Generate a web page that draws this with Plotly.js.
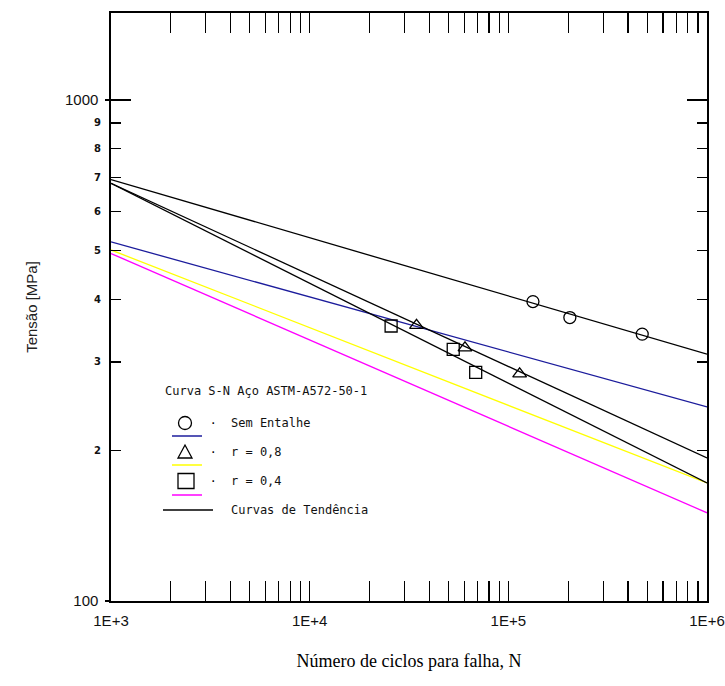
<!DOCTYPE html>
<html>
<head>
<meta charset="utf-8">
<script src="https://cdn.plot.ly/plotly-3.0.1.min.js"></script>
<style>html,body{margin:0;padding:0;background:#fff;}</style>
</head>
<body>
<div id="chart" style="width:725px;height:686px;"></div>
<script>
// ---- data ----
const circleN = [133000, 204000, 472000];
const circleS = [396, 368, 341];
const triN = [34500, 60500, 114000];
const triS = [355, 320, 284];
const sqN = [25700, 52800, 68500];
const sqS = [354, 318, 286];
const lineN = [1000, 1000000];
const trendCircle = [694, 311];
const trendTri = [682, 193];
const trendSq = [682, 172];
const blueCurve = [521, 244];
const yellowCurve = [502, 172];
const magentaCurve = [494, 150];
const xTickVals = [1e3, 1e4, 1e5, 1e6];
const xTickText = ['1E+3', '1E+4', '1E+5', '1E+6'];
const yMajorVals = [100, 1000];
const yMajorText = ['100', '1000'];
const yMinorVals = [200, 300, 400, 500, 600, 700, 800, 900];
const yMinorText = ['2', '3', '4', '5', '6', '7', '8', '9'];
const legendTitle = 'Curva S-N Aço ASTM-A572-50-1';
const legendLabels = ['Sem Entalhe', 'r = 0,8', 'r = 0,4', 'Curvas de Tendência'];

const xMinorVals = [];
[1e3, 1e4, 1e5].forEach(d => { for (let k = 2; k <= 9; k++) xMinorVals.push(k * d); });

const lineW = 1.3;
function line(y, color) {
  return {x: lineN, y: y, mode: 'lines', line: {color: color, width: lineW}, hoverinfo: 'skip', showlegend: false};
}
function pts(x, y, sym) {
  return {x: x, y: y, mode: 'markers', marker: {symbol: sym, size: 12, color: '#000', line: {width: 1.3, color: '#000'}}, showlegend: false};
}

const traces = [
  line(blueCurve, '#1c1c9c'),
  line(yellowCurve, '#ffff00'),
  line(magentaCurve, '#ff00ff'),
  line(trendCircle, '#000'),
  line(trendTri, '#000'),
  line(trendSq, '#000'),
  pts(circleN, circleS, 'circle-open'),
  pts(triN, triS, 'triangle-up-open'),
  pts(sqN, sqS, 'square-open'),
  {x: [], y: [], yaxis: 'y2', mode: 'markers', showlegend: false},
  {x: [], y: [], yaxis: 'y3', mode: 'markers', showlegend: false}
];

const yRange = [2, Math.log10(1492)];
const W = 596, H = 588, L = 111, T = 13;
const px = x => (x - L) / W;
const py = y => (T + H - y) / H;

const sans = 'Liberation Sans, Arial, sans-serif';
const legFont = {family: 'DejaVu Sans Mono, monospace', size: 12, color: '#111'};

const annotations = [
  {xref: 'paper', yref: 'paper', x: px(163), y: py(391), text: legendTitle, showarrow: false, xanchor: 'left', yanchor: 'middle', font: legFont},
];
const rowsY = [423, 452, 481, 510];
legendLabels.forEach((t, i) => {
  annotations.push({xref: 'paper', yref: 'paper', x: px(229), y: py(rowsY[i]), text: t, showarrow: false, xanchor: 'left', yanchor: 'middle', font: legFont});
  if (i < 3) annotations.push({xref: 'paper', yref: 'paper', x: px(213), y: py(rowsY[i]), text: '·', showarrow: false, xanchor: 'center', yanchor: 'middle', font: {family: 'DejaVu Sans', size: 14, color: '#000'}});
});

const sym = {xref: 'paper', yref: 'paper', xsizemode: 'pixel', ysizemode: 'pixel', line: {color: '#000', width: 1.3}};
const shapes = [
  Object.assign({}, sym, {type: 'circle', xanchor: px(185), yanchor: py(423), x0: -6.5, x1: 6.5, y0: -6.5, y1: 6.5}),
  Object.assign({}, sym, {type: 'path', xanchor: px(185), yanchor: py(452), path: 'M -7,-6 L 7,-6 L 0,7 Z'}),
  Object.assign({}, sym, {type: 'rect', xanchor: px(186), yanchor: py(481), x0: -8, x1: 8, y0: -7.5, y1: 7.5}),
  {type: 'line', xref: 'paper', yref: 'paper', x0: px(172), x1: px(202), y0: py(436), y1: py(436), line: {color: '#1c1c9c', width: 1.5}},
  {type: 'line', xref: 'paper', yref: 'paper', x0: px(172), x1: px(202), y0: py(465), y1: py(465), line: {color: '#ffff00', width: 1.5}},
  {type: 'line', xref: 'paper', yref: 'paper', x0: px(172), x1: px(202), y0: py(495), y1: py(495), line: {color: '#ff00ff', width: 1.5}},
  {type: 'line', xref: 'paper', yref: 'paper', x0: px(163), x1: px(213), y0: py(510), y1: py(510), line: {color: '#000', width: 1.3}}
];

const layout = {
  width: 725, height: 686,
  margin: {l: L, r: 725 - L - W, t: T, b: 686 - T - H},
  paper_bgcolor: '#fff', plot_bgcolor: '#fff',
  showlegend: false,
  xaxis: {
    type: 'log', range: [3, 6],
    tickmode: 'array', tickvals: xTickVals, ticktext: xTickText,
    ticks: 'inside', ticklen: 20, tickwidth: 1.2, tickcolor: '#000',
    mirror: 'allticks', showline: true, linecolor: '#000', linewidth: 1.6,
    showgrid: false, zeroline: false,
    tickfont: {family: sans, size: 15, color: '#111'},
    ticklabelstandoff: 5,
    minor: {tickmode: 'array', tickvals: xMinorVals, ticks: 'inside', ticklen: 10, tickwidth: 1.2, tickcolor: '#000', showgrid: false},
    title: {text: 'Número de ciclos para falha, N', font: {family: 'Liberation Serif, Times New Roman, serif', size: 18, color: '#000'}, standoff: 27},
    automargin: false
  },
  yaxis: {
    type: 'log', range: yRange,
    tickmode: 'array', tickvals: yMajorVals, ticktext: yMajorText,
    ticks: 'inside', ticklen: 20, tickwidth: 1.2, tickcolor: '#000',
    mirror: 'allticks', showline: true, linecolor: '#000', linewidth: 1.6,
    showgrid: false, zeroline: false,
    tickfont: {family: sans, size: 15, color: '#111'},
    ticklabelstandoff: 8,
    minor: {tickmode: 'array', tickvals: yMinorVals, ticks: 'inside', ticklen: 10, tickwidth: 1.2, tickcolor: '#000', showgrid: false},
    title: {text: 'Tensão [MPa]', font: {family: sans, size: 15, color: '#222'}, standoff: 24},
    automargin: false
  },
  yaxis2: {
    type: 'log', range: yRange, overlaying: 'y', side: 'left', anchor: 'x',
    tickmode: 'array', tickvals: yMinorVals, ticktext: yMinorText,
    ticks: '', showline: false, showgrid: false, zeroline: false,
    tickfont: {family: 'DejaVu Sans, sans-serif', size: 10, color: '#111', weight: 'bold'},
    ticklabelstandoff: 9
  },
  yaxis3: {
    type: 'log', range: yRange, overlaying: 'y', side: 'left', anchor: 'x',
    tickmode: 'array', tickvals: yMajorVals, ticks: 'outside', ticklen: 5, tickwidth: 1.2, tickcolor: '#000',
    showticklabels: false, showline: false, showgrid: false, zeroline: false
  },
  annotations: annotations,
  shapes: shapes
};

Plotly.newPlot('chart', traces, layout, {displayModeBar: false, staticPlot: true});
</script>
</body>
</html>
